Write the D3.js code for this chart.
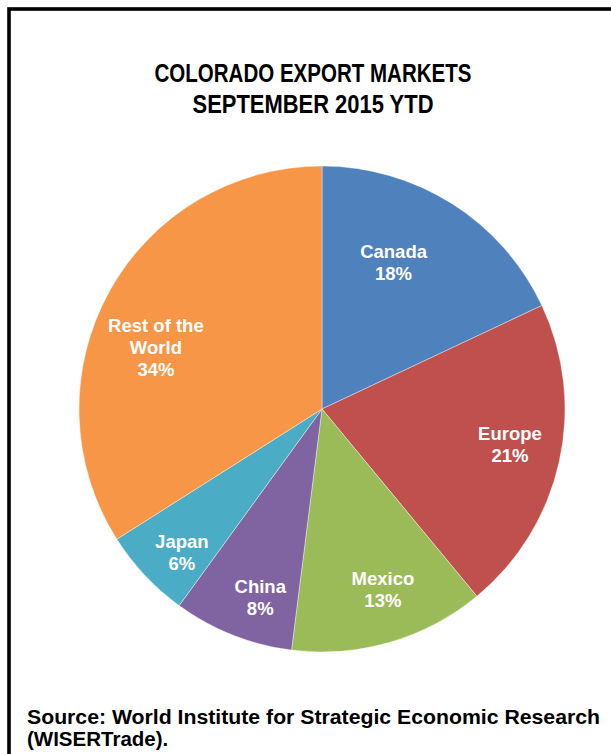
<!DOCTYPE html>
<html>
<head>
<meta charset="utf-8">
<script src="https://cdn.jsdelivr.net/npm/d3@7"></script>
<style>
  html, body { margin: 0; padding: 0; background: #fff; }
  svg { display: block; }
</style>
</head>
<body>
<svg id="chart" width="611" height="754"></svg>
<script>
// Colorado export markets, share of total (percent), September 2015 YTD
const markets = ["Canada", "Europe", "Mexico", "China", "Japan", "Rest of the World"];
const shares = [18, 21, 13, 8, 6, 34];
const sliceColors = ["#4F81BD", "#C0504D", "#9BBB59", "#8064A2", "#4BACC6", "#F79646"];
const titleLines = ["COLORADO EXPORT MARKETS", "SEPTEMBER 2015 YTD"];
const sourceLines = ["Source: World Institute for Strategic Economic Research", "(WISERTrade)."];

const svg = d3.select("#chart");
const cx = 322, cy = 409, R = 243;

// frame (runs off the right and bottom edges)
svg.append("rect")
  .attr("x", 9).attr("y", 9)
  .attr("width", 700).attr("height", 800)
  .attr("fill", "none").attr("stroke", "#000").attr("stroke-width", 3.6);

// title, set in a condensed bold face
const titleWidths = [317, 241];
svg.append("g")
  .attr("font-family", "'Liberation Sans', Arial, Helvetica, sans-serif")
  .attr("font-weight", "bold").attr("font-size", 26).attr("text-anchor", "middle")
  .selectAll("text").data(titleLines).join("text")
  .attr("x", 313).attr("y", (d, i) => 82 + i * 31)
  .attr("textLength", (d, i) => titleWidths[i])
  .attr("lengthAdjust", "spacingAndGlyphs")
  .text(d => d);

// pie
const data = markets.map((m, i) => ({ name: m, value: shares[i], color: sliceColors[i] }));
const pie = d3.pie().value(d => d.value).sort(null);
const arc = d3.arc().innerRadius(0).outerRadius(R);
const labelArc = d3.arc().innerRadius(R * 0.78).outerRadius(R * 0.78);

const g = svg.append("g").attr("transform", `translate(${cx},${cy})`);
const arcs = pie(data);
g.selectAll("path").data(arcs).join("path")
  .attr("d", arc)
  .attr("fill", d => d.data.color)
  .attr("stroke", "#fff").attr("stroke-width", 0.4);

// label placement tweaks relative to the slice centroid
const nudge = {
  "Canada": [-30, 13],
  "Europe": [3, -6],
  "Mexico": [8, -2],
  "China": [8, 12],
  "Japan": [-2, 14],
  "Rest of the World": [0, 30]
};
const labelLines = d => {
  const words = d.data.name === "Rest of the World" ? ["Rest of the", "World"] : [d.data.name];
  return words.concat([d3.format(".0f")(d.data.value) + "%"]);
};

const labels = g.selectAll("g.label").data(arcs).join("g")
  .attr("class", "label")
  .attr("transform", d => {
    const [x, y] = labelArc.centroid(d);
    const [dx, dy] = nudge[d.data.name];
    return `translate(${x + dx},${y + dy})`;
  });
labels.each(function (d) {
  const lines = labelLines(d);
  const lh = 22;
  const top = -((lines.length - 1) * lh) / 2;
  d3.select(this).selectAll("text").data(lines).join("text")
    .attr("x", 0).attr("y", (t, i) => top + i * lh)
    .attr("dy", "0.36em")
    .attr("text-anchor", "middle")
    .attr("font-family", "'Liberation Sans', Arial, Helvetica, sans-serif")
    .attr("font-weight", "bold").attr("font-size", 18.5)
    .attr("fill", "#fff")
    .text(t => t);
});

// source note
svg.append("g")
  .attr("font-family", "'Liberation Sans', Arial, Helvetica, sans-serif")
  .attr("font-weight", "bold").attr("font-size", 20.5)
  .selectAll("text").data(sourceLines).join("text")
  .attr("x", 27).attr("y", (d, i) => 724 + i * 22)
  .attr("textLength", (d, i) => i === 0 ? 573 : null)
  .attr("lengthAdjust", "spacingAndGlyphs")
  .text(d => d);
</script>
</body>
</html>
